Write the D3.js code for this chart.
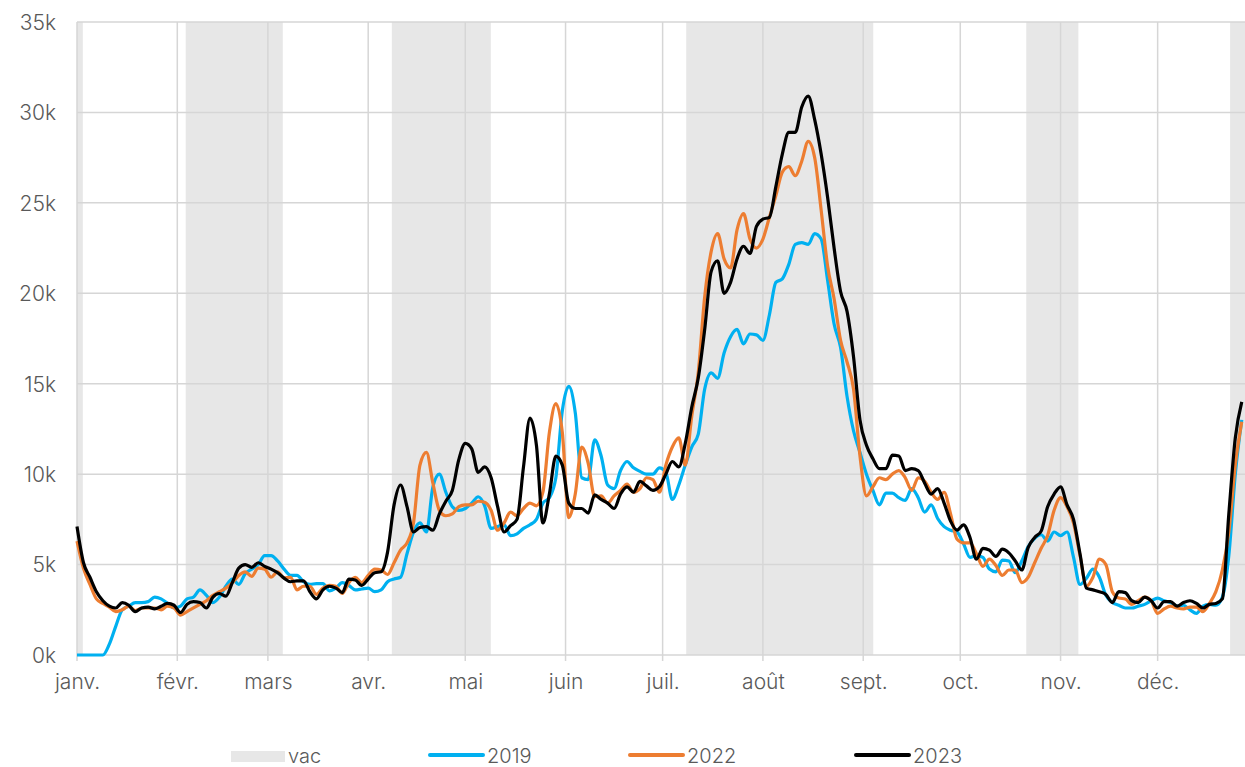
<!DOCTYPE html>
<html>
<head>
<meta charset="utf-8">
<script src="https://cdn.jsdelivr.net/npm/d3@7"></script>
<style>
  body { margin: 0; background: #fff; }
  svg text { font-family: Inter, "Open Sans", sans-serif; font-weight: 300; fill: #595959; }
</style>
</head>
<body>
<div id="chart"></div>
<script>
// values in thousands, one reading every 2 days starting 1 Jan (day 0)
var STEP = 2
var s2019 = [
  0,0,0,0,0,0.6,1.6,2.5,2.7,2.9,
  2.9,2.95,3.2,3.1,2.85,2.6,2.7,3.1,3.2,3.6,
  3.3,2.9,3.2,3.8,4.2,3.9,4.5,4.75,5.0,5.5,
  5.5,5.2,4.75,4.4,4.4,4.05,3.9,3.95,3.95,3.55,
  3.7,4.0,3.85,3.6,3.65,3.7,3.5,3.6,4.05,4.2,
  4.3,5.6,6.8,7.3,6.8,9.3,10.0,9.0,8.2,8.0,
  8.1,8.4,8.75,8.25,7.0,7.1,7.2,6.6,6.7,7.0,
  7.2,7.5,8.4,8.7,9.8,13.5,14.85,13.4,9.8,9.7,
  11.9,11.0,9.4,9.2,10.2,10.7,10.35,10.15,10.0,10.0,
  10.35,10.1,8.6,9.4,10.5,11.5,12.2,14.7,15.6,15.3,
  16.7,17.6,18.0,17.2,17.75,17.7,17.4,18.8,20.6,20.8,
  21.6,22.7,22.8,22.7,23.3,23.0,20.7,18.3,17.0,14.3,
  12.4,11.2,10.0,9.1,8.3,8.95,8.95,8.7,8.55,9.2,
  8.7,7.9,8.3,7.55,7.1,6.9,6.8,6.15,5.4,5.5,
  5.4,4.75,4.6,5.25,5.2,4.55,5.2,6.0,6.45,6.65,
  6.3,6.8,6.6,6.8,5.4,3.9,4.25,4.75,4.3,3.3,
  2.9,2.75,2.6,2.6,2.7,2.8,3.0,3.15,3.0,2.9,
  2.7,2.75,2.5,2.3,2.7,2.8,2.75,3.2,5.5,10.0,
  13.0
]
var s2022 = [
  6.3,4.8,3.9,3.1,2.85,2.65,2.4,2.5,2.7,2.45,
  2.6,2.6,2.6,2.5,2.7,2.6,2.2,2.4,2.6,2.8,
  3.0,3.3,3.5,3.7,4.0,4.4,4.6,4.35,4.8,4.75,
  4.3,4.6,4.25,4.3,3.6,3.8,3.8,3.35,3.7,3.85,
  3.8,3.4,4.0,4.3,4.0,4.4,4.75,4.7,4.45,5.1,
  5.8,6.2,7.3,10.5,11.2,9.5,8.0,7.7,7.8,8.2,
  8.3,8.3,8.5,8.45,8.0,6.9,7.3,7.9,7.7,8.1,
  8.4,8.25,9.0,12.3,13.9,12.3,7.6,8.9,11.5,10.6,
  8.75,8.8,8.4,8.8,9.1,9.45,9.0,9.2,9.8,9.7,
  9.0,10.5,11.5,12.0,10.5,13.2,15.6,19.8,22.3,23.3,
  21.9,21.4,23.5,24.4,23.0,22.5,23.0,24.2,25.4,26.7,
  27.0,26.5,27.3,28.4,27.5,24.6,21.5,19.7,17.4,16.2,
  14.7,11.0,8.8,9.3,9.8,9.7,10.0,10.2,9.8,9.1,
  9.8,9.6,9.0,8.6,9.0,7.8,6.4,6.2,6.2,5.6,
  4.9,5.3,4.95,4.4,4.7,4.7,4.0,4.3,5.1,5.9,
  6.6,8.0,8.7,8.2,7.3,5.5,3.8,4.3,5.3,5.0,
  3.5,3.15,3.1,2.8,3.0,3.2,3.0,2.3,2.55,2.7,
  2.6,2.55,2.65,2.65,2.4,2.85,3.5,4.7,6.8,10.5,
  12.9
]
var s2023 = [
  7.1,5.1,4.3,3.5,3.0,2.7,2.6,2.9,2.75,2.4,
  2.6,2.65,2.55,2.7,2.85,2.75,2.35,2.8,2.95,2.9,
  2.6,3.2,3.4,3.25,4.0,4.8,5.0,4.85,5.1,4.9,
  4.75,4.55,4.25,4.05,4.1,4.1,3.5,3.1,3.6,3.8,
  3.7,3.45,4.2,4.15,3.85,4.2,4.55,4.6,5.7,8.3,
  9.4,8.2,6.8,7.05,7.1,6.9,7.8,8.5,9.1,10.8,
  11.7,11.4,10.1,10.4,9.8,8.2,6.8,7.15,7.5,10.4,
  13.1,11.6,7.3,8.9,11.0,10.5,8.4,8.1,8.1,7.85,
  8.85,8.6,8.4,8.1,8.9,9.3,9.0,9.6,9.35,9.1,
  9.3,10.0,10.7,10.4,11.7,13.7,15.3,18.0,21.2,21.8,
  20.0,20.6,21.9,22.6,22.2,23.7,24.1,24.2,25.9,27.7,
  28.9,28.9,30.3,30.9,29.6,27.7,25.3,22.5,20.1,19.0,
  16.5,13.0,11.6,10.85,10.3,10.3,11.05,11.0,10.2,10.3,
  10.2,9.5,8.9,9.2,8.4,7.4,6.9,7.2,6.5,5.3,
  5.9,5.8,5.45,5.85,5.65,5.2,4.7,5.95,6.5,6.85,
  8.2,8.9,9.3,8.3,7.5,5.6,3.7,3.6,3.5,3.35,
  2.9,3.5,3.45,3.0,2.9,3.2,3.0,2.6,2.95,2.95,
  2.7,2.9,3.0,2.85,2.6,2.8,2.85,3.1,7.8,12.0,
  14.0
]
// school holidays, day-of-year ranges
var vacStart = [0, 33.6, 97.3, 188.3, 293.4, 356.4]
var vacEnd   = [1.8, 63.6, 127.9, 246.1, 309.5, 361]
var monthDays = [0, 31, 59, 90, 120, 151, 181, 212, 243, 273, 304, 334]
var monthLabels = ['janv.', 'févr.', 'mars', 'avr.', 'mai', 'juin', 'juil.', 'août', 'sept.', 'oct.', 'nov.', 'déc.']
var yTicks = [0, 5, 10, 15, 20, 25, 30, 35]
var seriesNames = ['2019', '2022', '2023']
var seriesColors = ['#00b0f0', '#ed7d31', '#000000']

var W = 1245, H = 767
var mLeft = 77, mRight = 1245, mTop = 22, mBottom = 655

var svg = d3.select('#chart').append('svg')
  .attr('width', W).attr('height', H)

var x = d3.scaleLinear().domain([0, 361]).range([mLeft, mRight])
var y = d3.scaleLinear().domain([0, 35]).range([mBottom, mTop])

// vac bands
svg.append('g').selectAll('rect')
  .data(vacStart)
  .join('rect')
    .attr('x', (d, i) => x(d))
    .attr('width', (d, i) => x(vacEnd[i]) - x(d))
    .attr('y', mTop)
    .attr('height', mBottom - mTop)
    .attr('fill', '#e7e7e7')

// grid
var grid = svg.append('g').attr('stroke', '#d6d6d6').attr('stroke-width', 1.5)
grid.selectAll('.gx').data(monthDays).join('line')
  .attr('x1', d => x(d)).attr('x2', d => x(d))
  .attr('y1', mTop).attr('y2', mBottom + 6)
grid.selectAll('.gy').data(yTicks).join('line')
  .attr('x1', mLeft).attr('x2', mRight)
  .attr('y1', d => y(d)).attr('y2', d => y(d))

// axes
var yAxis = d3.axisLeft(y).tickValues(yTicks).tickFormat(d => d + 'k').tickSize(0).tickPadding(21)
svg.append('g').attr('transform', 'translate(' + mLeft + ',0)').call(yAxis)
  .call(g => g.select('.domain').remove())
  .selectAll('text').attr('dy', '0.35em')

var xAxis = d3.axisBottom(x).tickValues(monthDays).tickFormat((d, i) => monthLabels[i]).tickSize(0).tickPadding(19)
svg.append('g').attr('transform', 'translate(0,' + mBottom + ')').call(xAxis)
  .call(g => g.select('.domain').remove())
  .selectAll('text').attr('dy', '0.71em')

svg.selectAll('.tick text')
  .attr('fill', '#595959')
  .attr('font-size', 21)
  .style('font-family', 'Inter, sans-serif')
  .style('font-weight', 300)

// lines
var line = d3.line()
  .x((d, i) => x(i * STEP))
  .y(d => y(d))
  .curve(d3.curveMonotoneX)

var allSeries = [s2019, s2022, s2023]
svg.append('g').selectAll('path')
  .data(allSeries)
  .join('path')
    .attr('d', d => line(d))
    .attr('fill', 'none')
    .attr('stroke', (d, i) => seriesColors[i])
    .attr('stroke-width', 3.2)
    .attr('stroke-linejoin', 'round')

// legend
var lg = svg.append('g')
lg.append('rect').attr('x', 231).attr('y', 751).attr('width', 54).attr('height', 11).attr('fill', '#e7e7e7')
lg.append('text').attr('x', 288).attr('y', 763).attr('font-size', 20).text('vac')
var legX = [428, 628, 854]
seriesNames.forEach(function(n, i){
  lg.append('line')
    .attr('x1', legX[i] + 2).attr('x2', legX[i] + 55)
    .attr('y1', 755).attr('y2', 755)
    .attr('stroke', seriesColors[i]).attr('stroke-width', 4).attr('stroke-linecap', 'round')
  lg.append('text').attr('x', legX[i] + 59).attr('y', 763).attr('font-size', 20).text(n)
})
</script>
</body>
</html>
